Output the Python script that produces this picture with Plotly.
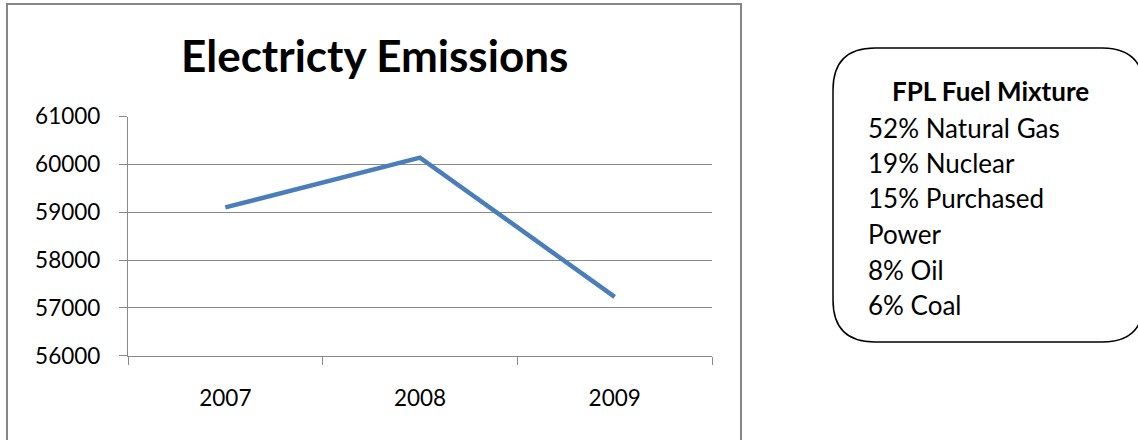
import plotly.graph_objects as go

years = ["2007", "2008", "2009"]
emissions = [59100, 60140, 57230]
y_ticks = [56000, 57000, 58000, 59000, 60000, 61000]
title_text = "Electricty Emissions"
box_title = "FPL Fuel Mixture"
box_lines = ["52% Natural Gas", "19% Nuclear", "15% Purchased", "Power", "8% Oil", "6% Coal"]

W, H = 1138, 440
FONT = "Lato, 'Open Sans', sans-serif"

def px(x):
    return x / W

def py(y):
    return 1 - y / H

fig = go.Figure()
fig.add_trace(go.Scatter(
    x=years, y=emissions, mode="lines",
    line=dict(color="#4a7ebb", width=4.5),
    showlegend=False, hoverinfo="x+y",
))

grid_c = "#8a8a8a"
fig.update_layout(
    width=W, height=H,
    margin=dict(l=0, r=0, t=0, b=0, pad=0, autoexpand=False),
    showlegend=False,
    paper_bgcolor="white", plot_bgcolor="white",
    font=dict(family=FONT, color="black"),
    xaxis=dict(
        domain=[px(128), px(712)],
        type="category", range=[-0.5, 2.5],
        showgrid=False, showline=True, linecolor=grid_c, linewidth=1.3,
        ticks="outside", tickson="boundaries", ticklen=8, tickcolor=grid_c, tickwidth=1.3,
        tickfont=dict(size=22.5, family=FONT), ticklabelstandoff=22,
        zeroline=False, automargin=False,
    ),
    yaxis=dict(
        domain=[py(355.7), py(116.5)],
        range=[56000, 61000], tickvals=y_ticks, ticktext=[str(v) for v in y_ticks],
        showgrid=True, gridcolor=grid_c, gridwidth=1.3,
        showline=True, linecolor=grid_c, linewidth=1.3,
        ticks="outside", ticklen=8, tickcolor=grid_c, tickwidth=1.3,
        tickfont=dict(size=22.5, family=FONT), ticklabelstandoff=14,
        zeroline=False, automargin=False,
    ),
)

# outer chart border
fig.add_shape(type="rect", xref="paper", yref="paper",
              x0=px(7), x1=px(741), y0=py(460), y1=py(4),
              line=dict(color="#868686", width=2), fillcolor="rgba(0,0,0,0)", layer="below")

# chart title
fig.add_annotation(xref="paper", yref="paper", x=px(374), y=py(55),
                   text="<b>" + title_text + "</b>", showarrow=False,
                   font=dict(size=44, family=FONT, color="black"),
                   xanchor="center", yanchor="middle")

# rounded box
x0, x1, y0, y1, r = 833, 1144, 48, 342, 42
path = (f"M {x0+r},{y0} L {x1-r},{y0} Q {x1},{y0} {x1},{y0+r} "
        f"L {x1},{y1-r} Q {x1},{y1} {x1-r},{y1} L {x0+r},{y1} "
        f"Q {x0},{y1} {x0},{y1-r} L {x0},{y0+r} Q {x0},{y0} {x0+r},{y0} Z")

def conv(p):
    out = []
    for tok in p.split(" "):
        if "," in tok:
            a, b = tok.split(",")
            out.append(f"{px(float(a)):.5f},{py(float(b)):.5f}")
        else:
            out.append(tok)
    return " ".join(out)

fig.add_shape(type="path", xref="paper", yref="paper", path=conv(path),
              line=dict(color="black", width=1.5), fillcolor="rgba(0,0,0,0)")

fig.add_annotation(xref="paper", yref="paper", x=px(990), y=py(91),
                   text="<b>" + box_title + "</b>", showarrow=False,
                   font=dict(size=26, family=FONT, color="black"),
                   xanchor="center", yanchor="middle")
line_y = [128, 163, 198, 234, 270, 305]
for t, yy in zip(box_lines, line_y):
    fig.add_annotation(xref="paper", yref="paper", x=px(866), y=py(yy),
                       text=t, showarrow=False,
                       font=dict(size=26, family=FONT, color="black"),
                       xanchor="left", yanchor="middle")

fig.write_html("out.html", config={"displayModeBar": False},
               post_script="document.body.style.margin='0';document.body.style.overflow='hidden';")
